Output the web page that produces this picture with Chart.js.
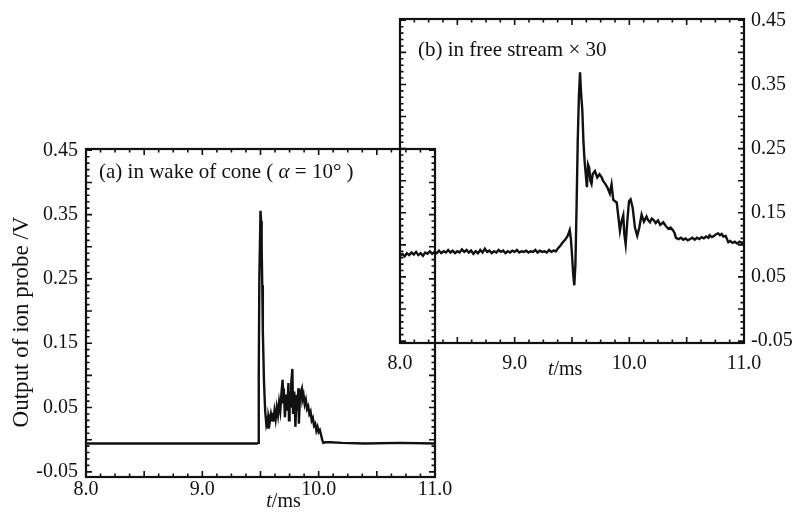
<!DOCTYPE html>
<html>
<head>
<meta charset="utf-8">
<script src="https://cdn.jsdelivr.net/npm/chart.js@4.4.1/dist/chart.umd.min.js"></script>
<style>
  body { margin: 0; background: #fff; }
  #wrap { position: relative; width: 794px; height: 512px; }
  canvas { position: absolute; left: 0; top: 0; }
</style>
</head>
<body>
<div id="wrap">
  <canvas id="chartB" width="794" height="512"></canvas>
  <canvas id="chartA" width="794" height="512"></canvas>
</div>
<script>
// (a) in wake of cone
const aTime = [8.0, 9.47, 9.48, 9.485, 9.49, 9.5, 9.505, 9.51, 9.515, 9.52, 9.53, 9.54, 9.55, 9.56, 9.565, 9.57, 9.58,
  9.59, 9.6, 9.605, 9.61, 9.62, 9.63, 9.64, 9.65, 9.66, 9.67, 9.68, 9.69, 9.695, 9.7, 9.71, 9.72, 9.73, 9.74, 9.745,
  9.75, 9.76, 9.765, 9.774, 9.78, 9.79, 9.8, 9.81, 9.82, 9.825, 9.83, 9.84, 9.855, 9.86, 9.87, 9.88, 9.89, 9.9, 9.91,
  9.92, 9.93, 9.94, 9.95, 9.96, 9.97, 9.98, 9.99, 10.0, 10.01, 10.02, 10.03, 10.04, 10.06, 10.1, 10.2, 10.4, 10.7, 11.0];
const aVolt = [-0.006, -0.006, -0.005, 0.1, 0.25, 0.356, 0.34, 0.3, 0.24, 0.17, 0.09, 0.045, 0.024, 0.032, 0.019, 0.036, 0.028,
  0.04, 0.03, 0.042, 0.028, 0.045, 0.032, 0.05, 0.038, 0.058, 0.045, 0.072, 0.093, 0.058, 0.08, 0.035, 0.07, 0.045, 0.088, 0.03,
  0.075, 0.05, 0.09, 0.11, 0.04, 0.075, 0.02, 0.07, 0.045, 0.08, 0.025, 0.07, 0.079, 0.062, 0.07, 0.055, 0.062, 0.048, 0.052,
  0.04, 0.044, 0.03, 0.034, 0.022, 0.025, 0.014, 0.02, 0.012, 0.015, 0.008, 0.0, -0.005, -0.004, -0.004, -0.005, -0.006, -0.005, -0.006];

// (b) in free stream x 30
const bTime = [8.0, 8.02, 8.04, 8.06, 8.08, 8.1, 8.12, 8.14, 8.16, 8.18, 8.2, 8.22, 8.24, 8.26, 8.28, 8.3, 8.32, 8.34, 8.36,
  8.38, 8.4, 8.42, 8.44, 8.46, 8.48, 8.5, 8.52, 8.54, 8.56, 8.58, 8.6, 8.62, 8.64, 8.66, 8.68, 8.7, 8.72, 8.74, 8.76, 8.78,
  8.8, 8.82, 8.84, 8.86, 8.88, 8.9, 8.92, 8.94, 8.96, 8.98, 9.0, 9.02, 9.04, 9.06, 9.08, 9.1, 9.12, 9.14, 9.16, 9.18, 9.2,
  9.22, 9.24, 9.26, 9.28, 9.3, 9.32, 9.34, 9.36, 9.38, 9.4, 9.42, 9.44, 9.46, 9.47, 9.48, 9.49, 9.5, 9.51, 9.52, 9.53, 9.54,
  9.55, 9.56, 9.57, 9.58, 9.59, 9.6, 9.61, 9.62, 9.63, 9.64, 9.65, 9.66, 9.67, 9.68, 9.7, 9.72, 9.74, 9.76, 9.77, 9.79,
  9.81, 9.83, 9.845, 9.86, 9.875, 9.89, 9.905, 9.918, 9.93, 9.947, 9.956, 9.968, 9.982, 9.997, 10.011, 10.029, 10.049,
  10.069, 10.087, 10.107, 10.127, 10.15, 10.165, 10.18, 10.195, 10.21, 10.23, 10.25, 10.27, 10.296, 10.32, 10.34, 10.36,
  10.383, 10.395, 10.406, 10.43, 10.45, 10.47, 10.49, 10.51, 10.53, 10.55, 10.57, 10.59, 10.61, 10.63, 10.65, 10.67, 10.69,
  10.7, 10.72, 10.74, 10.76, 10.775, 10.79, 10.805, 10.82, 10.84, 10.863, 10.88, 10.9, 10.92, 10.94, 10.96, 10.98, 11.0];
const bVolt = [0.083, 0.086, 0.082, 0.087, 0.084, 0.088, 0.085, 0.089, 0.084, 0.087, 0.083, 0.088, 0.086, 0.09, 0.086, 0.089,
  0.087, 0.091, 0.087, 0.09, 0.088, 0.092, 0.088, 0.091, 0.087, 0.09, 0.088, 0.093, 0.089, 0.092, 0.088, 0.091, 0.086, 0.09,
  0.087, 0.092, 0.088, 0.094, 0.089, 0.091, 0.087, 0.09, 0.088, 0.092, 0.089, 0.091, 0.087, 0.09, 0.088, 0.091, 0.089, 0.092,
  0.088, 0.09, 0.089, 0.091, 0.088, 0.09, 0.089, 0.092, 0.088, 0.091, 0.089, 0.09, 0.088, 0.092, 0.089, 0.091, 0.09, 0.095,
  0.099, 0.104, 0.108, 0.113, 0.118, 0.123, 0.11, 0.085, 0.055, 0.037, 0.07, 0.16, 0.262, 0.33, 0.369, 0.334, 0.31, 0.26,
  0.23, 0.21, 0.19, 0.225, 0.22, 0.2, 0.195, 0.21, 0.215, 0.205, 0.21, 0.205, 0.2, 0.195, 0.189, 0.18, 0.194, 0.17, 0.168,
  0.166, 0.143, 0.122, 0.135, 0.146, 0.117, 0.101, 0.136, 0.168, 0.171, 0.158, 0.127, 0.114, 0.127, 0.147, 0.136, 0.144,
  0.138, 0.135, 0.141, 0.139, 0.134, 0.138, 0.131, 0.135, 0.129, 0.125, 0.127, 0.122, 0.118, 0.111, 0.109, 0.111, 0.108,
  0.11, 0.107, 0.109, 0.111, 0.108, 0.111, 0.109, 0.112, 0.11, 0.113, 0.111, 0.115, 0.112, 0.114, 0.117, 0.118, 0.115,
  0.117, 0.113, 0.114, 0.104, 0.106, 0.103, 0.105, 0.102, 0.105, 0.103, 0.104];

const xLabels = [8.0, 9.0, 10.0, 11.0];
const yLabels = [-0.05, 0.05, 0.15, 0.25, 0.35, 0.45];

const SERIF = "'Liberation Serif', 'Times New Roman', serif";
const INK = '#111';

// frame with inward ticks on all four sides + panel text
const framePlugin = {
  id: 'frame',
  afterDatasetsDraw(chart, args, o) {
    const { ctx, chartArea: a, scales: { x, y } } = chart;
    ctx.save();
    ctx.strokeStyle = INK;
    ctx.lineWidth = 1.6;
    ctx.beginPath();
    for (let i = 0; i <= 24; i++) {
      const v = 8 + i * 0.125;
      const px = x.getPixelForValue(v);
      const len = i % 4 === 0 ? 6 : 3.5;
      ctx.moveTo(px, a.bottom); ctx.lineTo(px, a.bottom - len);
      ctx.moveTo(px, a.top); ctx.lineTo(px, a.top + len);
    }
    for (let i = -1; i <= 50; i++) {
      const v = -0.05 + i * 0.01;
      if (v < y.min || v > y.max) continue;
      const py = y.getPixelForValue(v);
      const len = (i + 100) % 5 === 0 ? 6 : 3.5;
      ctx.moveTo(a.left, py); ctx.lineTo(a.left + len, py);
      ctx.moveTo(a.right, py); ctx.lineTo(a.right - len, py);
    }
    ctx.stroke();
    ctx.lineWidth = 2.2;
    ctx.strokeRect(a.left, a.top, a.width, a.height);

    ctx.fillStyle = INK;
    ctx.textBaseline = 'alphabetic';
    // panel caption, pieces may be italic
    let cx = a.left + o.capDx;
    for (const [txt, it] of o.caption) {
      ctx.font = (it ? 'italic ' : '') + '21px ' + SERIF;
      ctx.fillText(txt, cx, a.top + o.capDy);
      cx += ctx.measureText(txt).width;
    }
    // t/ms axis label
    let tx = x.getPixelForValue(o.tmsAt);
    ctx.font = 'italic 20px ' + SERIF;
    ctx.fillText('t', tx, a.bottom + o.tmsDy);
    tx += ctx.measureText('t').width;
    ctx.font = '20px ' + SERIF;
    ctx.fillText('/ms', tx, a.bottom + o.tmsDy);
    if (o.yTitle) {
      ctx.translate(22, 322);
      ctx.rotate(-Math.PI / 2);
      ctx.textAlign = 'center';
      ctx.textBaseline = 'middle';
      ctx.font = '23px ' + SERIF;
      ctx.fillText(o.yTitle, 0, 0);
    }
    ctx.restore();
  }
};

function makeChart(id, times, volts, cfg) {
  return new Chart(document.getElementById(id), {
    type: 'line',
    data: {
      datasets: [{
        data: times.map((t, i) => ({ x: t, y: volts[i] })),
        borderColor: INK,
        borderWidth: 2.4,
        pointRadius: 0,
        tension: 0
      }]
    },
    options: {
      responsive: false,
      animation: false,
      events: [],
      layout: { padding: cfg.padding },
      plugins: { legend: { display: false }, tooltip: { enabled: false }, frame: cfg.frame },
      scales: {
        x: {
          type: 'linear', min: 8, max: 11,
          grid: { display: false, drawTicks: false },
          border: { display: false },
          afterBuildTicks: s => { s.ticks = xLabels.map(v => ({ value: v })); },
          afterFit: s => { s.height = cfg.xHeight; },
          ticks: {
            padding: cfg.xPad, color: INK, maxRotation: 0,
            font: { family: SERIF, size: 20 },
            callback: v => v.toFixed(1)
          }
        },
        y: {
          type: 'linear', position: cfg.yPos, min: cfg.yMin, max: 0.452,
          grid: { display: false, drawTicks: false },
          border: { display: false },
          afterBuildTicks: s => { s.ticks = yLabels.map(v => ({ value: v })); },
          afterFit: s => { s.width = cfg.yWidth; },
          ticks: {
            padding: cfg.yPad, color: INK,
            font: { family: SERIF, size: 20 },
            callback: v => v.toFixed(2)
          }
        }
      }
    },
    plugins: [framePlugin]
  });
}

makeChart('chartB', bTime, bVolt, {
  padding: { left: 400, right: 0, top: 17, bottom: 129 },
  xHeight: 40, yWidth: 50, yPos: 'right', yMin: -0.053, xPad: 9, yPad: 7,
  frame: {
    caption: [['(b) in free stream \u00d7 30', false]], capDx: 18, capDy: 37,
    tmsAt: 9.29, tmsDy: 32
  }
});

makeChart('chartA', aTime, aVolt, {
  padding: { left: 0, right: 359, top: 149, bottom: 0 },
  xHeight: 35, yWidth: 86, yPos: 'left', yMin: -0.058, xPad: 1, yPad: 8,
  frame: {
    caption: [['(a) in wake of cone ( ', false], ['\u03b1', true], [' = 10\u00b0 )', false]], capDx: 13, capDy: 29,
    tmsAt: 9.55, tmsDy: 30,
    yTitle: 'Output of ion probe /V'
  }
});
</script>
</body>
</html>
